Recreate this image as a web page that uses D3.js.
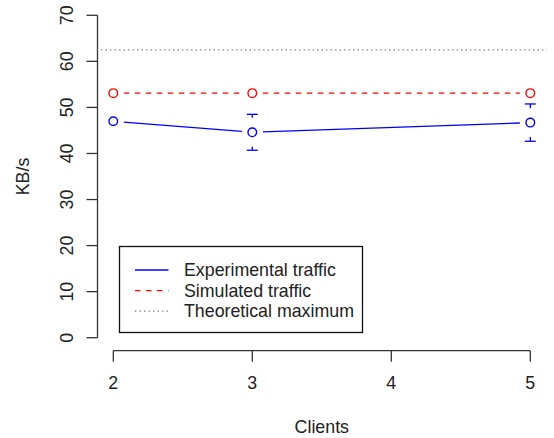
<!DOCTYPE html>
<html>
<head>
<meta charset="utf-8">
<script src="https://cdn.jsdelivr.net/npm/d3@7"></script>
<style>
  html, body { margin: 0; padding: 0; background: #fff; }
  svg { display: block; }
  text { font-family: "Liberation Sans", Arial, Helvetica, sans-serif; fill: #222; }
</style>
</head>
<body>
<script>
const clients = [2, 3, 5];
const experimental = [47.0, 44.6, 46.7];
const experimentalErr = [0, 3.9, 4.05];
const simulated = [53.1, 53.1, 53.1];
const theoreticalMax = 62.5;
const xTicks = [2, 3, 4, 5];
const yTicks = [0, 10, 20, 30, 40, 50, 60, 70];
const legendLabels = ["Experimental traffic", "Simulated traffic", "Theoretical maximum"];

const W = 554, H = 438;
const svg = d3.select("body").append("svg").attr("width", W).attr("height", H);

const x = d3.scaleLinear().domain([2, 5]).range([113.3, 530.3]);
const y = d3.scaleLinear().domain([0, 70]).range([337.7, 15.3]);
const plotLeft = x(2 - 0.12), plotRight = x(5 + 0.12);
const axisColor = "#333";
const fs = 17.8;

// y axis
const yAxisX = Math.round(plotLeft) + 0.5;
const yg = svg.append("g");
yg.append("line").attr("x1", yAxisX).attr("x2", yAxisX)
  .attr("y1", y(0)).attr("y2", y(70)).attr("stroke", axisColor).attr("stroke-width", 1.3);
yTicks.forEach(t => {
  yg.append("line").attr("x1", yAxisX - 11).attr("x2", yAxisX)
    .attr("y1", y(t)).attr("y2", y(t)).attr("stroke", axisColor).attr("stroke-width", 1.3);
  yg.append("text").attr("transform", `translate(${66.7},${y(t)}) rotate(-90)`)
    .attr("text-anchor", "middle").attr("dominant-baseline", "central")
    .attr("font-size", fs).text(t);
});
svg.append("text").attr("transform", `translate(23,${(y(-2.8) + y(72.8)) / 2}) rotate(-90)`)
  .attr("text-anchor", "middle").attr("dominant-baseline", "central")
  .attr("font-size", fs).text("KB/s");

// x axis
const xAxisY = 350.7;
const xg = svg.append("g");
xg.append("line").attr("x1", x(2)).attr("x2", x(5))
  .attr("y1", xAxisY).attr("y2", xAxisY).attr("stroke", axisColor).attr("stroke-width", 1.3);
xTicks.forEach(t => {
  xg.append("line").attr("x1", x(t)).attr("x2", x(t))
    .attr("y1", xAxisY).attr("y2", xAxisY + 11).attr("stroke", axisColor).attr("stroke-width", 1.3);
  xg.append("text").attr("x", x(t)).attr("y", 383)
    .attr("text-anchor", "middle").attr("dominant-baseline", "central")
    .attr("font-size", fs).text(t);
});
svg.append("text").attr("x", (plotLeft + plotRight) / 2).attr("y", 426.5)
  .attr("text-anchor", "middle").attr("dominant-baseline", "central")
  .attr("font-size", fs).text("Clients");

// theoretical maximum
svg.append("line").attr("x1", plotLeft).attr("x2", plotRight)
  .attr("y1", y(theoreticalMax)).attr("y2", y(theoreticalMax))
  .attr("stroke", "#777").attr("stroke-width", 1.3).attr("stroke-dasharray", "1.3,3.2");

// line segments with gaps (type = "b")
const gap = 10.5;
function gappedSegments(vals, color, dash) {
  for (let i = 0; i < clients.length - 1; i++) {
    const x1 = x(clients[i]), y1 = y(vals[i]);
    const x2 = x(clients[i + 1]), y2 = y(vals[i + 1]);
    const len = Math.hypot(x2 - x1, y2 - y1);
    const ux = (x2 - x1) / len, uy = (y2 - y1) / len;
    svg.append("line")
      .attr("x1", x1 + ux * gap).attr("y1", y1 + uy * gap)
      .attr("x2", x2 - ux * gap).attr("y2", y2 - uy * gap)
      .attr("stroke", color).attr("stroke-width", 1.3)
      .attr("stroke-dasharray", dash);
  }
  svg.append("g").selectAll("circle").data(vals).join("circle")
    .attr("cx", (d, i) => x(clients[i])).attr("cy", d => y(d)).attr("r", 4.3)
    .attr("fill", "none").attr("stroke", color).attr("stroke-width", 1.4);
}
gappedSegments(simulated, "#ff0000", "5.5,5.5");
gappedSegments(experimental, "#0000ff", null);

// error bars with gap around points
const ciGap = 14.5, capHalf = 5.5;
experimental.forEach((v, i) => {
  const e = experimentalErr[i];
  if (!e) return;
  const cx = x(clients[i]), cy = y(v);
  [y(v + e), y(v - e)].forEach(ey => {
    const dir = ey < cy ? -1 : 1;
    svg.append("line").attr("x1", cx).attr("x2", cx)
      .attr("y1", cy + dir * ciGap).attr("y2", ey)
      .attr("stroke", "#0000ff").attr("stroke-width", 1.3);
    svg.append("line").attr("x1", cx - capHalf).attr("x2", cx + capHalf)
      .attr("y1", ey).attr("y2", ey)
      .attr("stroke", "#0000ff").attr("stroke-width", 1.3);
  });
});

// legend
const lg = svg.append("g");
lg.append("rect").attr("x", 119.5).attr("y", 246.5).attr("width", 243).attr("height", 86)
  .attr("fill", "#fff").attr("stroke", "#111").attr("stroke-width", 1.3);
const legendColors = ["#0000ff", "#ff0000", "#777"];
const legendDash = [null, "5.5,5.5", "1.3,3.2"];
legendLabels.forEach((lab, i) => {
  const ry = 270 + i * 20.6;
  lg.append("line").attr("x1", 135).attr("x2", 168.5).attr("y1", ry).attr("y2", ry)
    .attr("stroke", legendColors[i]).attr("stroke-width", 1.3)
    .attr("stroke-dasharray", legendDash[i]);
  lg.append("text").attr("x", 184).attr("y", ry).attr("dominant-baseline", "central")
    .attr("font-size", fs).text(lab);
});
</script>
</body>
</html>
